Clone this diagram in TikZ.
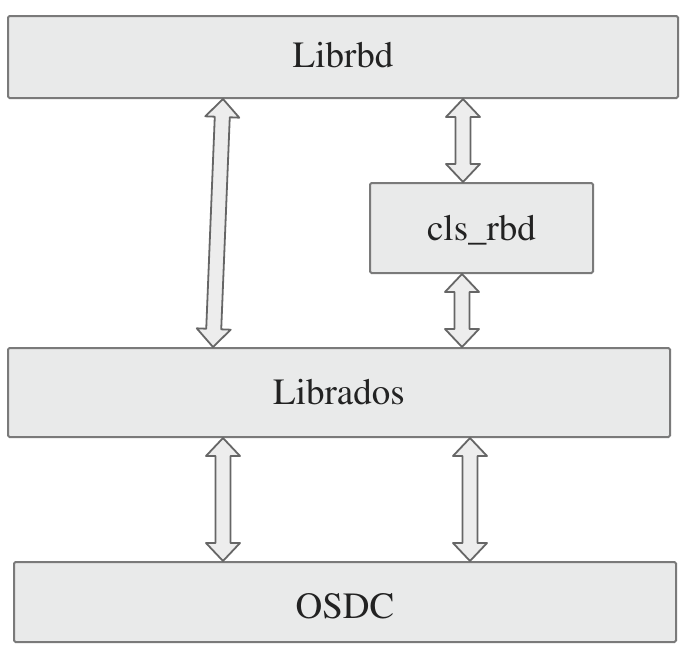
\documentclass[tikz,border=0pt]{standalone}
\usepackage[T1]{fontenc}
\usetikzlibrary{calc}
\definecolor{boxfill}{HTML}{E9EAEA}
\definecolor{boxline}{HTML}{7A7A7A}
\definecolor{arrfill}{HTML}{EDEDED}
\definecolor{arrline}{HTML}{666666}
\definecolor{txt}{HTML}{222222}
\newcommand{\arrHL}{18pt}
\newcommand{\arrHW}{17pt}
\newcommand{\arrSW}{7.5pt}
\newcommand{\blockarr}[2]{%
  \path (#1) coordinate (ba1) (#2) coordinate (ba2);
  \path ($(ba1)!\arrHL!(ba2)$) coordinate (bh1) ($(ba2)!\arrHL!(ba1)$) coordinate (bh2);
  \filldraw[blockarrow] (ba1) -- ($(bh1)!\arrHW!90:(ba2)$) -- ($(bh1)!\arrSW!90:(ba2)$)
    -- ($(bh2)!\arrSW!-90:(ba1)$) -- ($(bh2)!\arrHW!-90:(ba1)$) -- (ba2)
    -- ($(bh2)!\arrHW!90:(ba1)$) -- ($(bh2)!\arrSW!90:(ba1)$)
    -- ($(bh1)!\arrSW!-90:(ba2)$) -- ($(bh1)!\arrHW!-90:(ba2)$) -- cycle;
}
\tikzset{
  layer/.style={draw=boxline, fill=boxfill, line width=2pt, rounded corners=1.5pt,
    inner sep=0pt, text depth=0pt, text=txt,
    font=\fontfamily{ptm}\fontsize{37}{44}\selectfont},
  blockarrow/.style={draw=arrline, fill=arrfill, line width=1.8pt, line join=round}
}
\begin{document}
\begin{tikzpicture}[x=1pt,y=-1pt]
\useasboundingbox (0,0) rectangle (688,651);
\node[layer, minimum width=670pt, minimum height=82pt, text height=20pt] (librbd) at (343,57) {Librbd};
\node[layer, minimum width=223pt, minimum height=90pt, text height=24pt] (cls) at (481.5,228) {cls\_rbd};
\node[layer, minimum width=662pt, minimum height=89pt, text height=23pt] (librados) at (339,392.5) {Librados};
\node[layer, minimum width=662pt, minimum height=80pt, text height=32pt] (osdc) at (345,602) {OSDC};
\path (223,0) coordinate (xa) (213,0) coordinate (xb) (463,0) coordinate (xc)
      (462,0) coordinate (xd) (470,0) coordinate (xe);
\coordinate (a1t) at (librbd.south -| xa);
\coordinate (a1b) at (librados.north -| xb);
\coordinate (a2t) at (librbd.south -| xc);
\coordinate (a2b) at (cls.north -| xc);
\coordinate (a3t) at (cls.south -| xd);
\coordinate (a3b) at (librados.north -| xd);
\coordinate (a4t) at (librados.south -| xa);
\coordinate (a4b) at (osdc.north -| xa);
\coordinate (a5t) at (librados.south -| xe);
\coordinate (a5b) at (osdc.north -| xe);
\blockarr{a1t}{a1b}
\blockarr{a2t}{a2b}
\blockarr{a3t}{a3b}
\blockarr{a4t}{a4b}
\blockarr{a5t}{a5b}
\end{tikzpicture}
\end{document}
